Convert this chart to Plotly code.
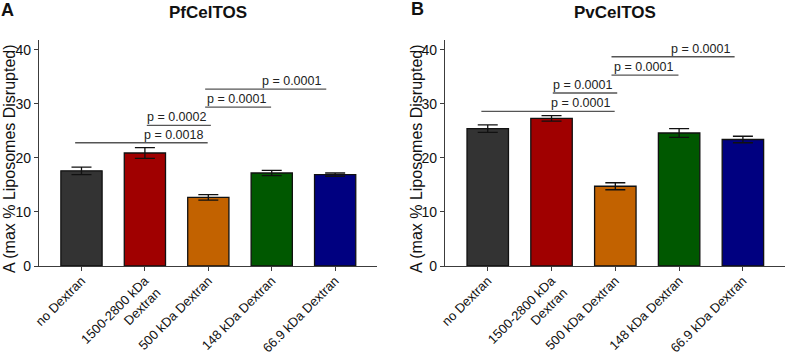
import plotly.graph_objects as go

categories = ["no Dextran", "1500-2800 kDa<br>Dextran", "500 kDa Dextran",
              "148 kDa Dextran", "66.9 kDa Dextran"]
bar_colors = ["#333333", "#a00000", "#c26200", "#005800", "#000080"]

pf_mean = [17.6, 20.9, 12.7, 17.2, 16.9]
pf_err = [0.7, 1.0, 0.5, 0.5, 0.3]
pv_mean = [25.4, 27.3, 14.75, 24.6, 23.4]
pv_err = [0.7, 0.5, 0.65, 0.8, 0.6]

pf_sig_x0 = [-0.1, 1.03, 1.95, 1.95]
pf_sig_x1 = [1.99, 2.04, 2.99, 3.86]
pf_sig_y = [22.8, 26.0, 29.4, 32.7]
pf_sig_lbl = ["p = 0.0018", "p = 0.0002", "p = 0.0001", "p = 0.0001"]

pv_sig_x0 = [-0.1, 1.02, 1.94, 1.94]
pv_sig_x1 = [1.99, 2.03, 2.99, 3.87]
pv_sig_y = [28.6, 32.0, 35.3, 38.7]
pv_sig_lbl = ["p = 0.0001", "p = 0.0001", "p = 0.0001", "p = 0.0001"]

titles = ["PfCelTOS", "PvCelTOS"]
panel_letters = ["A", "B"]
y_title = "A (max % Liposomes Disrupted)"
y_ticks = [0, 10, 20, 30, 40]

FONT = "Liberation Sans, Arial, sans-serif"
AX = "#3c3c3c"

W, H = 787, 356
ML, MR, MT, MB = 39, 2, 40, 90
pw = W - ML - MR
ph = H - MT - MB

fig = go.Figure()
xs = list(range(len(categories)))

panels = [
    (pf_mean, pf_err, pf_sig_x0, pf_sig_x1, pf_sig_y, pf_sig_lbl, "x", "y"),
    (pv_mean, pv_err, pv_sig_x0, pv_sig_x1, pv_sig_y, pv_sig_lbl, "x2", "y2"),
]

annotations = []
shapes = []
for i, (m, e, sx0, sx1, sy, sl, xa, ya) in enumerate(panels):
    fig.add_trace(go.Bar(
        x=xs, y=m, width=0.65, xaxis=xa, yaxis=ya,
        marker=dict(color=bar_colors, line=dict(color="#111111", width=1.3)),
        error_y=dict(type="data", array=e, visible=True, color="#111111",
                     thickness=1.3, width=10),
        showlegend=False,
    ))
    for a, b, yv, t in zip(sx0, sx1, sy, sl):
        shapes.append(dict(type="line", xref=xa, yref=ya, x0=a, x1=b, y0=yv, y1=yv,
                           line=dict(color="#555555", width=1.3)))
        annotations.append(dict(xref=xa, yref=ya, x=b, y=yv, text=t, showarrow=False,
                                xanchor="right", yanchor="bottom", xshift=-3, yshift=-1,
                                font=dict(family=FONT, size=12.5, color="#222222")))
    annotations.append(dict(xref=xa, yref="paper", x=2, y=(ph + MT - 12) / ph,
                            text="<b>%s</b>" % titles[i], showarrow=False,
                            xanchor="center", yanchor="middle",
                            font=dict(family=FONT, size=17, color="#111111")))

# y titles and panel letters (pixel positions converted to paper)
def px2paper_x(px):
    return (px - ML) / pw

def py2paper_y(py):
    return (MT + ph - py) / ph

for px, py in [(9, 159), (416, 159)]:
    annotations.append(dict(xref="paper", yref="paper", x=px2paper_x(px), y=py2paper_y(py),
                            text=y_title, textangle=-90, showarrow=False,
                            xanchor="center", yanchor="middle",
                            font=dict(family=FONT, size=16, color="#111111")))
for lt, px, py in [("A", 7, 10), ("B", 417, 9)]:
    annotations.append(dict(xref="paper", yref="paper", x=px2paper_x(px), y=py2paper_y(py),
                            text="<b>%s</b>" % lt, showarrow=False,
                            xanchor="center", yanchor="middle",
                            font=dict(family=FONT, size=18, color="#111111")))

xcommon = dict(range=[-0.67, 4.66], tickvals=xs, ticktext=categories, tickangle=-45,
               showline=True, linecolor=AX, linewidth=1.2, ticks="outside", ticklen=4,
               tickcolor=AX, showgrid=False, zeroline=False, automargin=False,
               ticklabelstandoff=-3,
               tickfont=dict(family=FONT, size=13, color="#111111"))
ycommon = dict(range=[0, 41.8], tickvals=y_ticks, showline=True, linecolor=AX, linewidth=1.2,
               ticks="outside", ticklen=4, tickcolor=AX, showgrid=False, zeroline=False,
               automargin=False,
               tickfont=dict(family=FONT, size=14, color="#111111"))

fig.update_layout(
    width=W, height=H,
    margin=dict(l=ML, r=MR, t=MT, b=MB, autoexpand=False),
    plot_bgcolor="white", paper_bgcolor="white",
    xaxis=dict(domain=[0, 338 / pw], anchor="y", **xcommon),
    xaxis2=dict(domain=[(445 - ML) / pw, 1], anchor="y2", **xcommon),
    yaxis=dict(anchor="x", **ycommon),
    yaxis2=dict(anchor="x2", **ycommon),
    shapes=shapes, annotations=annotations,
    bargap=0.35,
)

fig.write_html("out.html", config={"displayModeBar": False},
               post_script="document.body.style.margin='0';document.body.style.overflow='hidden';")
